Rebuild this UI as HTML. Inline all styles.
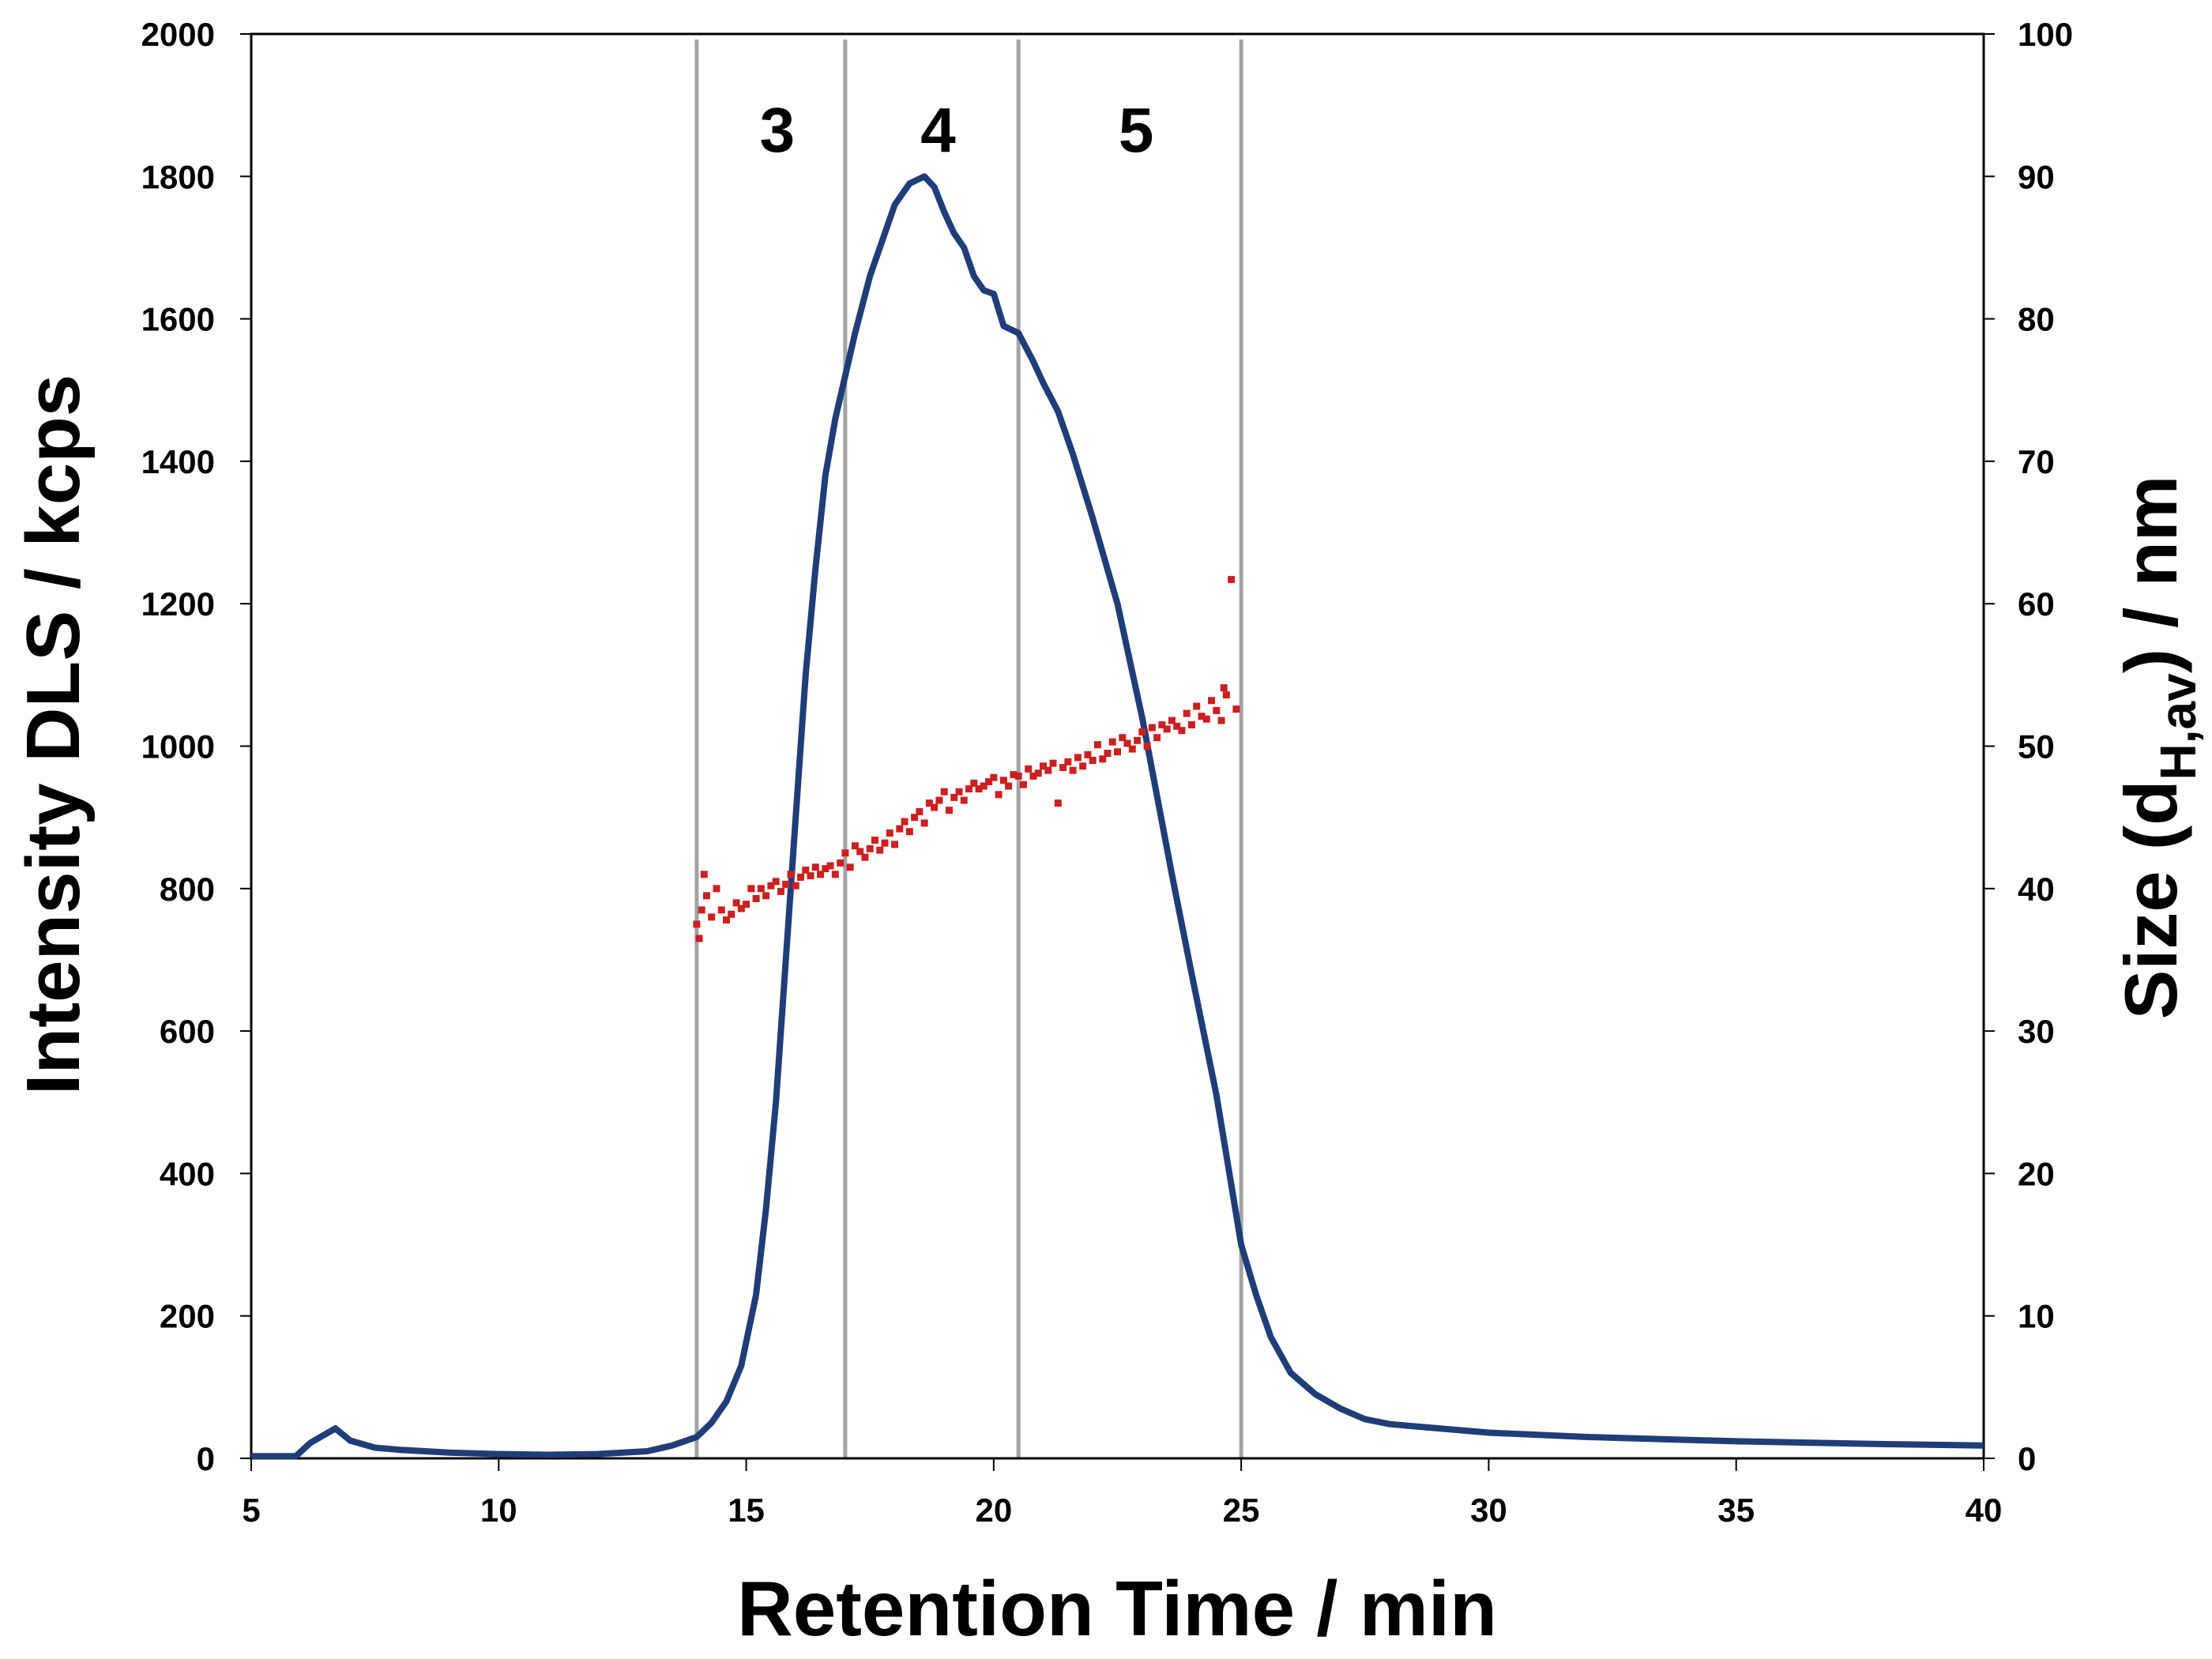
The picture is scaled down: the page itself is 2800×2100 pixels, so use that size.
<!DOCTYPE html>
<html><head><meta charset="utf-8"><style>
html,body{margin:0;padding:0;background:#fff;}
svg{display:block;}
text{font-family:"Liberation Sans Narrow","Liberation Sans",sans-serif;font-weight:bold;fill:#000;}
</style></head><body>
<svg id="chart" width="2800" height="2100" viewBox="0 0 2800 2100" xmlns="http://www.w3.org/2000/svg">
<g id="grid"></g>
<text x="0" y="0" font-size="96" text-anchor="middle" transform="translate(100,930) rotate(-90)">Intensity DLS / kcps</text>
<text x="0" y="0" font-size="94" text-anchor="middle" transform="translate(2755,946) rotate(-90)">Size (d<tspan font-size="64" dy="24">H,av</tspan><tspan dy="-24">) / nm</tspan></text>
<text x="1414" y="2070" font-size="98" text-anchor="middle">Retention Time / min</text>
</svg>
<script>
const xTicks=[5,10,15,20,25,30,35,40];
const yTicks=[0,200,400,600,800,1000,1200,1400,1600,1800,2000];
const y2Ticks=[0,10,20,30,40,50,60,70,80,90,100];
const fractionBounds=[14,17,20.5,25];
const fractionLabels=["3","4","5"];
const intensityT=[5,5.9,6.2,6.7,7,7.5,8,9,10,11,12,13,13.5,14,14.3,14.6,14.9,15.2,15.4,15.6,15.8,16,16.2,16.4,16.6,16.8,17,17.2,17.5,17.8,18,18.3,18.6,18.8,19,19.2,19.4,19.6,19.8,20,20.2,20.5,20.8,21,21.3,21.6,22,22.5,23,23.3,23.6,24,24.5,25,25.3,25.6,26,26.5,27,27.5,28,29,30,32,35,38,40];
const intensityV=[3,3,22,42,25,15,12,8,6,5,6,10,18,30,50,80,130,230,350,500,700,900,1100,1250,1380,1460,1520,1580,1660,1720,1760,1790,1800,1785,1750,1720,1700,1660,1640,1635,1590,1580,1540,1510,1470,1410,1320,1200,1040,930,820,680,510,300,230,170,120,90,70,55,48,42,36,30,24,20,18];
const sizeT=[14,14.05,14.1,14.15,14.2,14.3,14.4,14.5,14.6,14.7,14.8,14.9,15,15.1,15.2,15.3,15.4,15.5,15.6,15.7,15.8,15.9,16,16.1,16.2,16.3,16.4,16.5,16.6,16.7,16.8,16.9,17,17.1,17.2,17.3,17.4,17.5,17.6,17.7,17.8,17.9,18,18.1,18.2,18.3,18.4,18.5,18.6,18.7,18.8,18.9,19,19.1,19.2,19.3,19.4,19.5,19.6,19.7,19.8,19.9,20,20.1,20.2,20.3,20.4,20.5,20.6,20.7,20.8,20.9,21,21.1,21.2,21.3,21.4,21.5,21.6,21.7,21.8,21.9,22,22.1,22.2,22.3,22.4,22.5,22.6,22.7,22.8,22.9,23,23.1,23.2,23.3,23.4,23.5,23.6,23.7,23.8,23.9,24,24.1,24.2,24.3,24.4,24.5,24.6,24.65,24.7,24.8,24.9];
const sizeV=[37.5,36.5,38.5,41,39.5,38,40,38.5,37.8,38.2,39,38.6,38.9,40,39.3,40,39.5,40.2,40.5,39.8,40.3,41,40.2,40.8,41.3,40.9,41.5,41,41.4,41.6,41,41.8,42.5,41.5,43,42.6,42.2,42.8,43.4,42.7,43.2,43.9,43.1,44.2,44.7,44,45,45.4,44.6,46,45.7,46.2,46.8,45.5,46.4,46.8,46.2,47,47.4,47,47.2,47.5,47.8,46.6,47.6,47.2,48,47.9,47.3,48.4,47.9,48.1,48.6,48.3,48.8,46,48.5,48.9,48.3,49.2,48.6,49.4,49,50.1,49.1,49.5,50.3,49.6,50.6,50.2,49.8,50.4,51,50,51.3,50.6,51.5,51.2,51.8,51.4,51.1,52.3,51.5,52.8,52.1,51.9,53.2,52.5,51.8,54.1,53.6,61.7,52.6,55.8,52.5];
const X0=318,X1=2511,Y0=1846,Y1=43;
function sx(t){return X0+(t-5)/(40-5)*(X1-X0);}
function sy(v){return Y0-v/2000*(Y0-Y1);}
function sy2(v){return Y0-v/100*(Y0-Y1);}
const NS="http://www.w3.org/2000/svg";
const g=document.getElementById('grid');
function mk(tag,attrs){const e=document.createElementNS(NS,tag);for(const k in attrs)e.setAttribute(k,attrs[k]);g.appendChild(e);return e;}
fractionBounds.forEach(function(t){
 const l=mk('line',{x1:sx(t),x2:sx(t),y1:50,y2:Y0,stroke:'#a0a3a6','stroke-width':5});
 
 
});
fractionLabels.forEach(function(s,i){
 const t=mk('text',{x:sx((fractionBounds[i]+fractionBounds[i+1])/2)+8,y:192,'font-size':80,'text-anchor':'middle'});
 t.textContent=s;
 
 
});
const fr=mk('rect',{x:X0,y:Y1,width:X1-X0,height:Y0-Y1,fill:'none',stroke:'#000','stroke-width':3});


yTicks.forEach(function(v){
 mk('line',{x1:X0-14,x2:X0,y1:sy(v),y2:sy(v),stroke:'#000','stroke-width':2});
 const t=mk('text',{x:272,y:sy(v)+15,'font-size':42,'text-anchor':'end'});
 t.textContent=v;
 
 
});
y2Ticks.forEach(function(v){
 mk('line',{x1:X1,x2:X1+14,y1:sy2(v),y2:sy2(v),stroke:'#000','stroke-width':2});
 const t=mk('text',{x:2554,y:sy2(v)+15,'font-size':42,'text-anchor':'start'});
 t.textContent=v;
 
 
});
xTicks.forEach(function(v){
 mk('line',{x1:sx(v),x2:sx(v),y1:Y0,y2:Y0+16,stroke:'#000','stroke-width':2});
 const t=mk('text',{x:sx(v),y:1926,'font-size':42,'text-anchor':'middle'});
 t.textContent=v;
 
 
});
let d='';
intensityT.forEach(function(t,i){d+=(i?'L':'M')+sx(t).toFixed(1)+','+sy(intensityV[i]).toFixed(1);});
const p=mk('path',{d:d,fill:'none',stroke:'#1f3d78','stroke-width':8,'stroke-linejoin':'round'});


sizeT.forEach(function(t,i){
 const r=mk('rect',{x:sx(t)-4.5,y:sy2(sizeV[i])-4.5,width:9,height:9,fill:'#cc2020'});
 
 
});
</script>
</body></html>
